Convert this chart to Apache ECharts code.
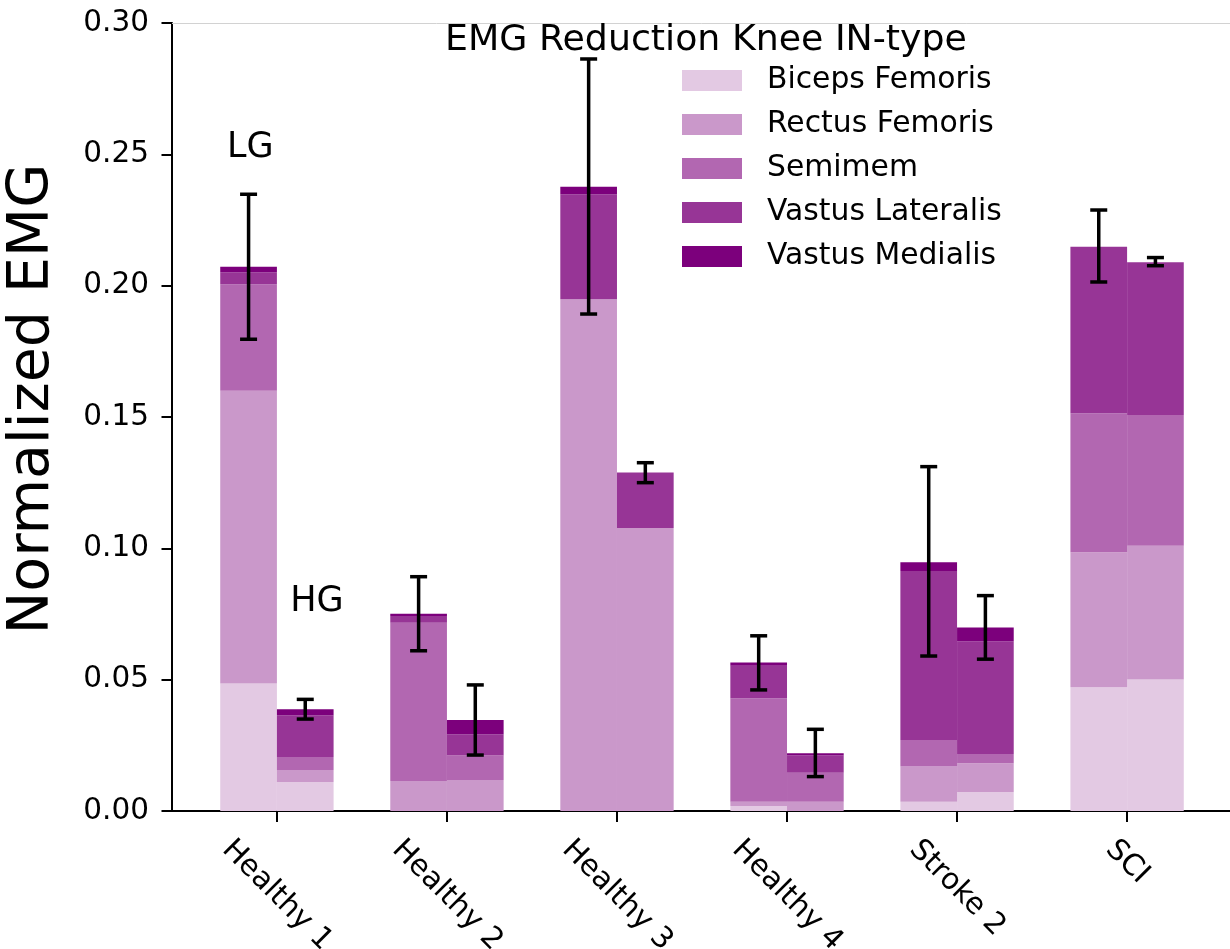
<!DOCTYPE html>
<html>
<head>
<meta charset="utf-8">
<title>EMG Reduction Knee IN-type</title>
<script src="https://cdn.jsdelivr.net/npm/echarts@6/dist/echarts.min.js"></script>
<style>
  html, body { margin: 0; padding: 0; background: #ffffff; }
  #chart { width: 1230px; height: 949px; }
</style>
</head>
<body>
<div id="chart"></div>
<script>
// Subjects on the x axis; each has an LG (left) and HG (right) stacked bar.
const categories = ['Healthy 1', 'Healthy 2', 'Healthy 3', 'Healthy 4', 'Stroke 2', 'SCI'];
const muscles = ['Biceps Femoris', 'Rectus Femoris', 'Semimem', 'Vastus Lateralis', 'Vastus Medialis'];
const muscleColors = ['#e3c9e3', '#ca98ca', '#b267b1', '#973596', '#7c007c'];

// LG stacked segment heights (normalized EMG), one entry per subject
const bicepsLG    = [0.0485, 0.0000, 0.0000, 0.0019, 0.0035, 0.0471];
const rectusLG    = [0.1115, 0.0114, 0.1948, 0.0016, 0.0134, 0.0514];
const semimemLG   = [0.0405, 0.0603, 0.0000, 0.0394, 0.0101, 0.0529];
const lateralisLG = [0.0046, 0.0025, 0.0400, 0.0124, 0.0644, 0.0634];
const medialisLG  = [0.0021, 0.0009, 0.0029, 0.0012, 0.0033, 0.0000];

// HG stacked segment heights
const bicepsHG    = [0.0110, 0.0000, 0.0000, 0.0000, 0.0072, 0.0501];
const rectusHG    = [0.0046, 0.0118, 0.1077, 0.0035, 0.0110, 0.0509];
const semimemHG   = [0.0050, 0.0093, 0.0000, 0.0111, 0.0035, 0.0498];
const lateralisHG = [0.0159, 0.0081, 0.0212, 0.0065, 0.0428, 0.0581];
const medialisHG  = [0.0022, 0.0054, 0.0000, 0.0009, 0.0054, 0.0000];

// Error bar extents (lower, upper) for each bar
const errLowLG  = [0.1796, 0.0610, 0.1892, 0.0461, 0.0590, 0.2014];
const errHighLG = [0.2348, 0.0892, 0.2863, 0.0667, 0.1311, 0.2288];
const errLowHG  = [0.0350, 0.0213, 0.1250, 0.0131, 0.0578, 0.2076];
const errHighHG = [0.0425, 0.0480, 0.1326, 0.0311, 0.0820, 0.2107];

// Group annotations: [x (subject units), y, text]
const groupNotes = [[-0.156, 0.2523, 'LG'], [0.235, 0.0796, 'HG']];

const yMin = 0, yMax = 0.30, yStep = 0.05;

const FONT = '"DejaVu Sans", Verdana, sans-serif';
const lgSegments = [bicepsLG, rectusLG, semimemLG, lateralisLG, medialisLG];
const hgSegments = [bicepsHG, rectusHG, semimemHG, lateralisHG, medialisHG];

// Build stacked [subject, side, base, top] items for each muscle
function stackItems() {
  const out = muscles.map(() => []);
  [lgSegments, hgSegments].forEach((segs, side) => {
    categories.forEach((c, i) => {
      let base = 0;
      segs.forEach((arr, m) => {
        const top = base + arr[i];
        out[m].push([i, side, base, top]);
        base = top;
      });
    });
  });
  return out;
}
const stacked = stackItems();

const errItems = [];
categories.forEach((c, i) => {
  errItems.push([i, 0, errLowLG[i], errHighLG[i]]);
  errItems.push([i, 1, errLowHG[i], errHighHG[i]]);
});

// Rotated x labels: keep the top of every label at the same height
const tickSize = 29.5;
const measureCtx = document.createElement('canvas').getContext('2d');
measureCtx.font = tickSize + 'px ' + FONT;
const labelWidths = categories.map(c => measureCtx.measureText(c).width);
const minLabelW = Math.min(...labelWidths);
const xRich = {};
categories.forEach((c, i) => {
  const p = (labelWidths[i] - minLabelW) / 2;
  xRich['c' + i] = { fontSize: tickSize, fontFamily: FONT, color: '#000', padding: [p, 0, 0, p] };
});

function renderBar(params, api) {
  const cat = api.value(0), side = api.value(1), lo = api.value(2), hi = api.value(3);
  if (hi - lo <= 0) return null;
  const p0 = api.coord([cat, lo]);
  const p1 = api.coord([cat, hi]);
  const w = api.size([1, 0])[0] / 3;
  const x = side === 0 ? p0[0] - w : p0[0];
  return {
    type: 'rect',
    shape: { x: x, y: p1[1], width: w, height: p0[1] - p1[1] },
    style: { fill: api.visual('color') }
  };
}

function renderErr(params, api) {
  const cat = api.value(0), side = api.value(1), lo = api.value(2), hi = api.value(3);
  const pLo = api.coord([cat, lo]);
  const pHi = api.coord([cat, hi]);
  const w = api.size([1, 0])[0] / 3;
  const cx = pLo[0] + (side === 0 ? -w / 2 : w / 2);
  const cap = 8.5;
  const st = { stroke: '#000', lineWidth: 3.5 };
  return {
    type: 'group',
    children: [
      { type: 'line', shape: { x1: cx, y1: pLo[1], x2: cx, y2: pHi[1] }, style: st },
      { type: 'line', shape: { x1: cx - cap, y1: pHi[1], x2: cx + cap, y2: pHi[1] }, style: st },
      { type: 'line', shape: { x1: cx - cap, y1: pLo[1], x2: cx + cap, y2: pLo[1] }, style: st }
    ]
  };
}

function renderNote(params, api) {
  const p = api.coord([api.value(0), api.value(1)]);
  return {
    type: 'text',
    x: p[0], y: p[1],
    style: {
      text: groupNotes[params.dataIndex][2],
      fill: '#000',
      font: '35px ' + FONT,
      align: 'center',
      verticalAlign: 'middle'
    }
  };
}

const series = muscles.map((name, m) => ({
  name: name,
  type: 'custom',
  renderItem: renderBar,
  itemStyle: { color: muscleColors[m] },
  encode: { x: 0, y: [2, 3] },
  data: stacked[m],
  z: 2
}));

series.push({
  name: 'error',
  type: 'custom',
  renderItem: renderErr,
  encode: { x: 0, y: [2, 3] },
  data: errItems,
  z: 5
});

series.push({
  name: 'notes',
  type: 'custom',
  renderItem: renderNote,
  encode: { x: 0, y: 1 },
  data: groupNotes.map(n => [n[0], n[1]]),
  z: 6
});

const chart = echarts.init(document.getElementById('chart'), null, { renderer: 'canvas' });
chart.setOption({
  backgroundColor: '#ffffff',
  animation: false,
  title: {
    text: 'EMG Reduction Knee IN-type',
    left: 445, top: 23, padding: 0,
    textStyle: { fontSize: 36.3, fontWeight: 'normal', fontFamily: FONT, color: '#000' }
  },
  legend: {
    data: muscles,
    orient: 'vertical',
    left: 682, top: 65.5, padding: 0,
    itemWidth: 60, itemHeight: 21, itemGap: 14,
    icon: 'rect',
    selectedMode: false,
    textStyle: { fontSize: 29.8, fontFamily: FONT, color: '#000', padding: [0, 0, 0, 20] }
  },
  grid: { left: 172, right: -2, top: 23, bottom: 138, outerBoundsMode: 'none', containLabel: false },
  xAxis: [{
    type: 'value',
    min: -0.617, max: 5.617,
    splitLine: { show: false },
    axisLine: { show: true, onZero: false, lineStyle: { color: '#000', width: 2 } },
    axisTick: { show: true, length: 11, lineStyle: { color: '#000', width: 2 }, customValues: [0, 1, 2, 3, 4, 5] },
    axisLabel: {
      show: true,
      customValues: [0, 1, 2, 3, 4, 5],
      rotate: -45,
      align: 'center',
      verticalAlign: 'middle',
      margin: 51,
      formatter: v => { const i = Math.round(v); return '{c' + i + '|' + categories[i] + '}'; },
      rich: xRich
    }
  }, {
    type: 'value',
    position: 'top',
    min: -0.617, max: 5.617,
    splitLine: { show: false },
    axisLine: { show: true, onZero: false, lineStyle: { color: '#d2d2d2', width: 1 } },
    axisTick: { show: false },
    axisLabel: { show: false }
  }],
  yAxis: {
    type: 'value',
    min: yMin, max: yMax, interval: yStep,
    name: 'Normalized EMG',
    nameLocation: 'middle',
    nameGap: 139,
    nameTextStyle: { fontSize: 57, fontFamily: FONT, color: '#000', verticalAlign: 'middle', padding: [0, 0, 0, 36] },
    splitLine: { show: false },
    axisLine: { show: true, onZero: false, lineStyle: { color: '#000', width: 2 } },
    axisTick: { show: true, length: 10.5, lineStyle: { color: '#000', width: 2 } },
    axisLabel: {
      margin: 23, fontSize: tickSize, fontFamily: FONT, color: '#000',
      formatter: v => v.toFixed(2)
    }
  },
  series: series
});
</script>
</body>
</html>
